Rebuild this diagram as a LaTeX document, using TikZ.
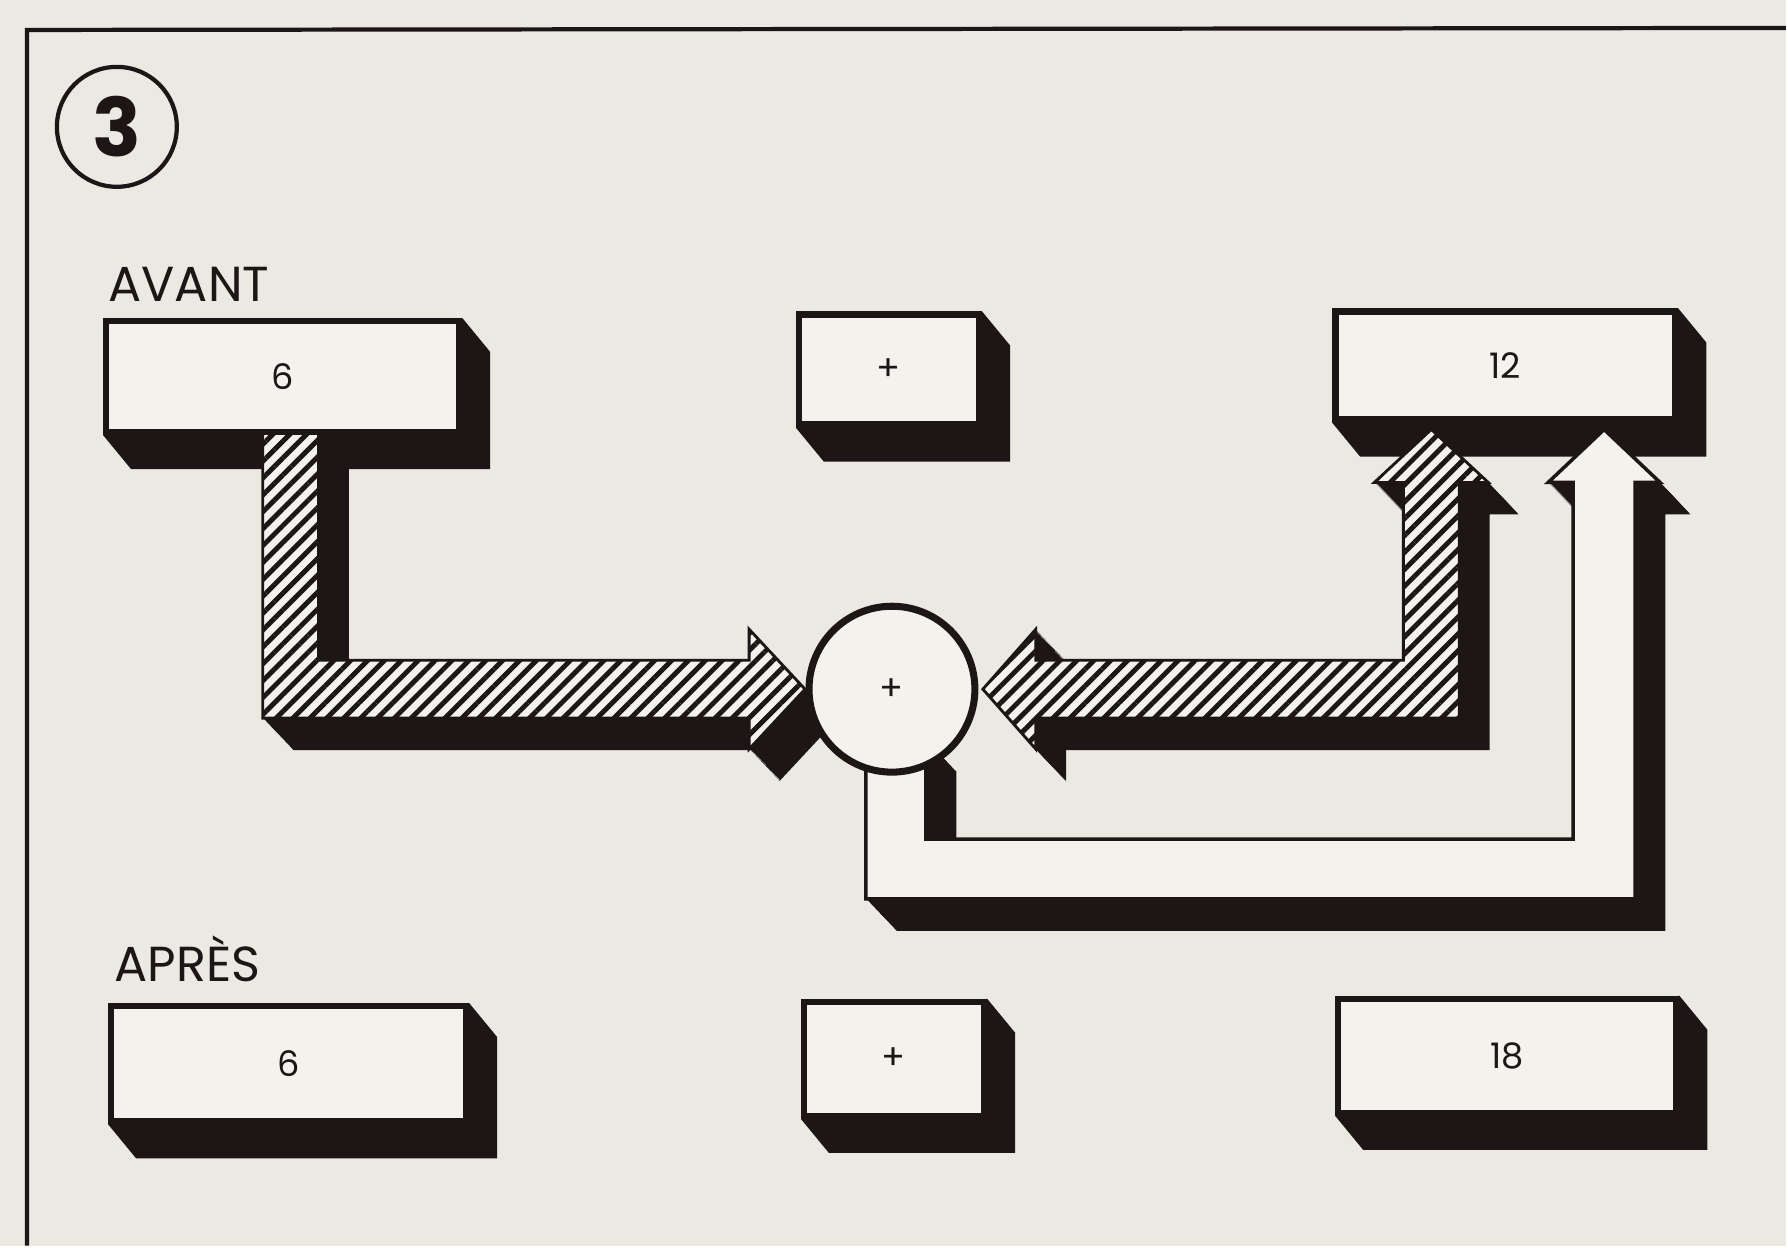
\documentclass[tikz,border=0pt]{standalone}
\usepackage{fontspec}
\setmainfont{Poppins}
\usetikzlibrary{patterns.meta}

\definecolor{paper}{RGB}{236,233,226}
\definecolor{keyface}{RGB}{244,242,237}
\definecolor{ink}{RGB}{28,22,22}

\pgfdeclarelayer{paperlayer}
\pgfdeclarelayer{depth}
\pgfdeclarelayer{flow}
\pgfsetlayers{paperlayer,depth,flow,main}

\begin{document}
\begin{tikzpicture}[
    x=0.01cm, y=-0.01cm,
    every node/.style={font=\fontsize{10}{12}\selectfont, text=ink},
    keybox/.style={rectangle, draw=ink, line width=1.8pt, fill=keyface, inner sep=0pt},
    heading/.style={anchor=base west, inner sep=0pt, font=\fontsize{14}{16}\selectfont},
    hatched/.style={draw=ink, line width=0.8pt, preaction={fill=keyface}, pattern={Lines[angle=45,distance=3.4pt,line width=1.4pt]}, pattern color=ink},
    blank/.style={draw=ink, line width=1pt, fill=keyface},
    leftflow/.style={insert path={(263,433) -- (319,433) -- (319,661) -- (750,661) -- (750,630) -- (806,690) -- (750,750) -- (750,719) -- (263,719) -- cycle}},
    rightflow/.style={insert path={(984,690) -- (1037,630) -- (1037,661) -- (1405,661) -- (1405,483) -- (1376,483) -- (1433,430) -- (1490,483) -- (1461,483) -- (1461,719) -- (1037,719) -- (1037,750) -- cycle}},
    backflow/.style={insert path={(867,740) -- (867,900) -- (1637,900) -- (1637,483) -- (1662,483) -- (1606,430) -- (1550,483) -- (1575,483) -- (1575,840) -- (927,840) -- (927,740) -- cycle}}
]

\begin{pgfonlayer}{paperlayer}
  \fill[paper] (0,0) rectangle (1788,1247);
  \draw[ink, line width=1.2pt] (27,1247) -- (27,30) -- (1788,28);
\end{pgfonlayer}

\node[circle, draw=ink, line width=1.2pt, minimum size=1.2cm, inner sep=0pt, font=\fontsize{23}{24}\selectfont\bfseries] (badge) at (117,127) {3};

% before
\node[heading] (avant) at (108,302) {AVANT};
\node[keybox, minimum width=3.53cm, minimum height=1.11cm] (six) at (283,377) {6};
\node[keybox, minimum width=1.80cm, minimum height=1.10cm] (plus) at (890,370) {+};
\node[keybox, minimum width=3.40cm, minimum height=1.08cm] (twelve) at (1507,366) {12};

\node[circle, draw=ink, line width=2pt, fill=keyface, minimum size=1.66cm, inner sep=0pt] (sum) at (893,690) {+};

% after
\node[heading] (apres) at (114,983) {APRÈS};
\node[keybox, minimum width=3.55cm, minimum height=1.15cm] (sixafter) at (289,1065) {6};
\node[keybox, minimum width=1.80cm, minimum height=1.14cm] (plusafter) at (895,1060) {+};
\node[keybox, minimum width=3.38cm, minimum height=1.14cm] (eighteen) at (1509,1057) {18};

\begin{pgfonlayer}{depth}
  \foreach \k in {six,plus,twelve,sixafter,plusafter,eighteen}
    \fill[ink] (\k.north east) -- ++(28,34) -- ([shift={(28,34)}]\k.south east) -- ([shift={(28,34)}]\k.south west) -- (\k.south west) -- cycle;
\end{pgfonlayer}

% 3D arrows
\begin{pgfonlayer}{flow}
  \foreach \arm/\look in {backflow/blank, leftflow/hatched, rightflow/hatched} {
    \foreach \d in {1,...,32}
      \fill[ink, shift={(\d*0.95,\d)}, \arm];
    \path[\look, \arm];
  }
\end{pgfonlayer}

\end{tikzpicture}
\end{document}
